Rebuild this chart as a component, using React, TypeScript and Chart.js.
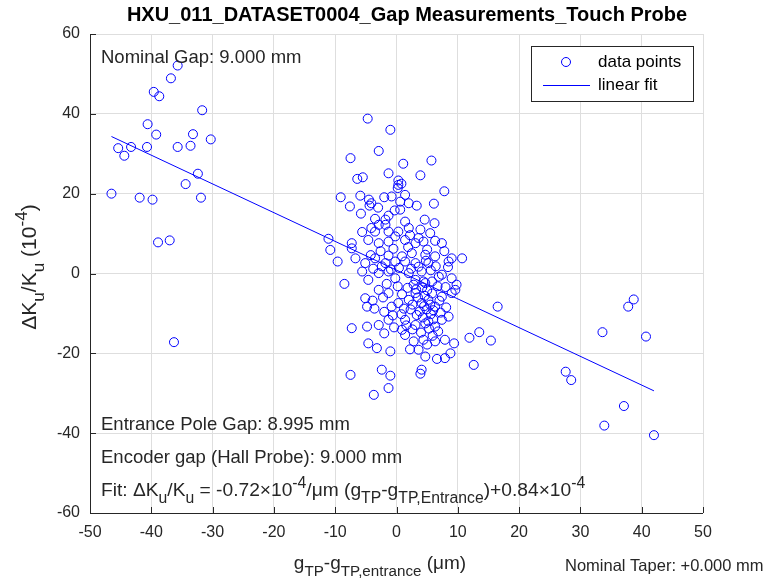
import React, { useEffect, useRef } from "react";
import { Chart, registerables } from "chart.js";

Chart.register(...registerables);

// ---- data ----
const leftX = [-35.7, -36.8, -39.6, -38.7, -31.7, -40.6, -39.2, -33.2, -30.3, -45.4, -43.3, -44.4, -40.7, -35.7, -33.6, -32.4, -34.4, -46.5, -41.9, -39.8, -31.9, -38.9, -37.0, -36.3];
const leftY = [52.1, 48.9, 45.5, 44.4, 40.9, 37.4, 34.8, 34.9, 33.6, 31.4, 31.7, 29.5, 31.7, 31.7, 32.0, 25.0, 22.4, 20.0, 19.0, 18.5, 19.0, 7.8, 8.3, -17.2];

const rightX = [16.5, 38.7, 37.8, 33.6, 40.7, 13.5, 11.9, 15.4, 12.6, 27.6, 28.5, 37.1, 33.9, 42.0];
const rightY = [-8.3, -6.5, -8.3, -14.7, -15.8, -14.7, -16.1, -16.8, -22.9, -24.6, -26.7, -33.2, -38.1, -40.5];

const upperX = [-4.7, -1.0, -2.9, -7.5, 5.7, 1.1, -1.3, 3.9, -6.4, -5.5, 0.3, 0.8, 0.3, 0.2, 7.8, -9.1, -5.9, -4.5, -4.1, -4.4, -2.0, -0.8, 1.4, 0.6, 2.0, 3.3, 6.1, -7.6, -5.8, 0.6, -3.5, -1.8, -1.3, -2.9, -4.1, -3.5, -1.8, -1.3, 1.4, 2.0, 3.9, -5.6, 0.3, -0.2, 5.5, -11.1, -7.3, -4.6, -2.9, -1.3, 1.4, 3.6, 3.1, 4.4, 6.3, 7.4, -10.8, -7.3, -6.7, -3.5, -1.3, 0.9, 2.5, 4.7, 6.3, 9.0, 10.7, -9.6, -5.1, -1.8, -0.2, 1.4, 3.1, 5.2, 8.5];
const upperY = [38.8, 36.0, 30.7, 28.9, 28.3, 27.5, 25.1, 24.6, 23.7, 24.1, 23.3, 22.5, 22.2, 21.4, 20.6, 19.1, 19.5, 18.5, 17.6, 17.0, 19.1, 19.3, 19.7, 18.0, 17.6, 17.0, 17.5, 16.8, 15.0, 16.0, 13.7, 13.5, 14.5, 12.2, 11.4, 10.5, 12.2, 10.5, 13.0, 11.4, 11.0, 10.4, 10.5, 9.3, 10.1, 8.7, 7.6, 8.4, 7.6, 8.0, 8.4, 8.9, 7.6, 8.0, 8.2, 7.6, 5.9, 6.3, 3.8, 3.8, 4.5, 4.3, 5.1, 4.7, 4.3, 3.8, 3.8, 3.0, 2.6, 2.6, 3.0, 3.0, 2.6, 2.6, 3.0];

const lowerX = [-8.5, -5.6, -4.6, -2.9, -1.3, -0.2, 2.0, 3.1, 4.1, 4.7, 7.4, 9.0, 9.6, -5.1, -4.8, -2.9, -1.3, -0.8, 0.3, 2.0, 3.1, 4.1, 5.2, 6.3, 7.4, 9.0, 8.5, 7.4, -7.3, -4.8, -2.9, -1.3, 1.4, 3.1, 4.7, 6.3, -4.6, -3.2, -1.0, 2.2, 3.6, 4.7, 6.6, 7.9, 8.8, 9.4, 7.9, 6.3, 4.4, 1.4, 0.9, -7.5, -2.4, -1.0, 4.1, 3.9, -1.3, -3.7];
const lowerY = [-2.6, 0.5, -1.6, 0.1, 0.5, -1.2, 0.1, -1.6, 0.5, -2.4, -0.3, -1.2, -4.1, -6.2, -8.3, -4.1, -4.9, -8.3, -7.4, -6.6, -4.9, -7.4, -6.6, -8.3, -5.8, -4.9, -10.8, -11.6, -13.7, -13.3, -12.9, -11.6, -11.6, -12.9, -12.5, -13.3, -17.5, -18.7, -19.5, -19.0, -19.1, -20.8, -21.4, -21.2, -20.0, -17.5, -16.6, -17.0, -16.6, -15.4, -14.1, -25.4, -24.1, -25.6, -24.1, -25.1, -28.7, -30.4];

const denseX = [4.2, 5.0, 5.8, 4.6, 3.8, 4.9, 5.6, 6.0, 4.3, 5.3, 6.8, 5.9, 4.0, 2.6, 3.3, 2.3, 1.2, 0.8, -0.6, -2.0, -3.6, -3.9, -2.2, 0.9, 1.8, 2.8, 5.8, 6.7, 7.0, 8.1, 8.0, 6.9, 5.6, 6.4, 3.6, 2.4, 0.4, -0.9, -2.4, -3.8, -4.2, -2.6, -0.5, 1.9, 5.0, 7.8, 8.4, 9.8, 4.5, 5.5, 3.5, 6.0, 2.6, 1.6, -0.4, -2.0, 5.0, 2.8, 4.8, 2.2, 4.6, -0.3, -3.0, 6.2, 7.2, 5.2, 4.4, 3.2, 0.2, -1.6];
const denseY = [-3.5, -4.2, -5.0, -5.6, -9.5, -9.0, -10.2, -11.5, -11.0, -13.8, -14.5, -15.6, -14.8, -14.0, -10.4, -9.0, -8.8, -10.2, -10.5, -9.6, -8.8, -6.8, -6.0, -5.2, -3.6, -2.8, -2.0, -3.2, -6.8, -8.5, -3.4, -0.8, 0.8, 1.8, 1.7, 1.2, 1.4, 1.0, 1.8, 1.2, 4.6, 5.6, 6.2, 6.6, 6.0, 5.6, 1.6, -2.8, -8.2, -7.8, -6.0, -9.2, -7.8, -13.0, -13.5, -15.0, -17.8, -17.0, 3.2, 9.6, 13.5, 15.8, 16.5, 12.6, -9.8, -12.0, -2.0, -4.0, -3.2, -2.6];

const fitSlope = -0.72;
const fitIntercept = 0.84;

const xTicks = [-50, -40, -30, -20, -10, 0, 10, 20, 30, 40, 50];
const yTicks = [-60, -40, -20, 0, 20, 40, 60];

const titleText = "HXU_011_DATASET0004_Gap Measurements_Touch Probe";
const nominalGapText = "Nominal Gap: 9.000 mm";
const entranceGapText = "Entrance Pole Gap: 8.995 mm";
const encoderGapText = "Encoder gap (Hall Probe): 9.000 mm";
const taperText = "Nominal Taper: +0.000 mm";

const FONT = "'Liberation Sans', Arial, Helvetica, sans-serif";
const AX = "#262626";

type Seg = { t: string; k?: "sub" | "sup" };

function richWidth(ctx: CanvasRenderingContext2D, segs: Seg[], size: number, ss = 0.78) {
  let w = 0;
  for (const s of segs) {
    const sz = s.k ? size * ss : size;
    ctx.font = `${sz}px ${FONT}`;
    w += ctx.measureText(s.t).width;
  }
  return w;
}

function drawRich(ctx: CanvasRenderingContext2D, x: number, y: number, segs: Seg[], size: number, ss = 0.78) {
  let cx = x;
  ctx.textAlign = "left";
  ctx.textBaseline = "alphabetic";
  for (const s of segs) {
    const sz = s.k ? size * ss : size;
    ctx.font = `${sz}px ${FONT}`;
    let dy = 0;
    if (s.k === "sub") dy = size * 0.36;
    if (s.k === "sup") dy = -size * 0.42;
    ctx.fillText(s.t, cx, y + dy);
    cx += ctx.measureText(s.t).width;
  }
}

const fitSegs: Seg[] = [
  { t: "Fit: \u0394K" }, { t: "u", k: "sub" }, { t: "/K" }, { t: "u", k: "sub" },
  { t: " = -0.72\u00d710" }, { t: "-4", k: "sup" }, { t: "/\u03bcm (g" }, { t: "TP", k: "sub" },
  { t: "-g" }, { t: "TP,Entrance", k: "sub" }, { t: ")+0.84\u00d710" }, { t: "-4", k: "sup" },
];
const xLabelSegs: Seg[] = [
  { t: "g" }, { t: "TP", k: "sub" }, { t: "-g" }, { t: "TP,entrance", k: "sub" }, { t: " (\u03bcm)" },
];
const yLabelSegs: Seg[] = [
  { t: "\u0394K" }, { t: "u", k: "sub" }, { t: "/K" }, { t: "u", k: "sub" }, { t: " (10" }, { t: "-4", k: "sup" }, { t: ")" },
];

const decorPlugin = {
  id: "decor",
  afterDraw(chart: any) {
    const ctx: CanvasRenderingContext2D = chart.ctx;
    const a = chart.chartArea;
    const xs = chart.scales.x;
    const ys = chart.scales.y;
    ctx.save();
    // axes
    ctx.strokeStyle = AX;
    ctx.lineWidth = 1;
    ctx.beginPath();
    ctx.moveTo(Math.round(a.left) + 0.5, a.top);
    ctx.lineTo(Math.round(a.left) + 0.5, Math.round(a.bottom) + 0.5);
    ctx.lineTo(a.right, Math.round(a.bottom) + 0.5);
    ctx.stroke();
    ctx.beginPath();
    for (const t of xTicks) {
      const px = Math.round(xs.getPixelForValue(t)) + 0.5;
      ctx.moveTo(px, a.bottom);
      ctx.lineTo(px, a.bottom - 6);
    }
    for (const t of yTicks) {
      const py = Math.round(ys.getPixelForValue(t)) + 0.5;
      ctx.moveTo(a.left, py);
      ctx.lineTo(a.left + 6, py);
    }
    ctx.stroke();

    // title
    ctx.fillStyle = "#000";
    ctx.font = `bold 20px ${FONT}`;
    ctx.textAlign = "center";
    ctx.textBaseline = "middle";
    ctx.fillText(titleText, 407, 15);

    // annotations
    ctx.fillStyle = "#262626";
    ctx.font = `18.5px ${FONT}`;
    ctx.textAlign = "left";
    ctx.textBaseline = "middle";
    ctx.fillText(nominalGapText, a.left + 11, 58);
    ctx.fillText(entranceGapText, a.left + 11, 425);
    ctx.fillText(encoderGapText, a.left + 11, 458);
    drawRich(ctx, a.left + 11, 496, fitSegs, 19.2, 0.82);
    ctx.font = `16.5px ${FONT}`;
    ctx.textBaseline = "middle";
    ctx.textAlign = "left";
    ctx.fillText(taperText, 565, 566);

    // x label
    const xw = richWidth(ctx, xLabelSegs, 19, 0.8);
    drawRich(ctx, 380 - xw / 2, 569, xLabelSegs, 19, 0.8);

    // y label
    ctx.save();
    ctx.translate(36, 267);
    ctx.rotate(-Math.PI / 2);
    const yw = richWidth(ctx, yLabelSegs, 21, 0.82);
    drawRich(ctx, -yw / 2, 0, yLabelSegs, 21, 0.82);
    ctx.restore();

    // legend
    ctx.fillStyle = "#fff";
    ctx.fillRect(531.5, 46.5, 162, 55);
    ctx.strokeStyle = AX;
    ctx.lineWidth = 1;
    ctx.strokeRect(531.5, 46.5, 162, 55);
    ctx.strokeStyle = "#0000ff";
    ctx.beginPath();
    ctx.arc(566, 62, 4.5, 0, Math.PI * 2);
    ctx.stroke();
    ctx.beginPath();
    ctx.moveTo(543, 85.5);
    ctx.lineTo(590, 85.5);
    ctx.stroke();
    ctx.fillStyle = "#000";
    ctx.font = `17px ${FONT}`;
    ctx.textAlign = "left";
    ctx.textBaseline = "middle";
    ctx.fillText("data points", 598, 62);
    ctx.fillText("linear fit", 598, 85);
    ctx.restore();
  },
};

export default function App() {
  const ref = useRef<HTMLCanvasElement | null>(null);
  useEffect(() => {
    if (!ref.current) return;
    const allX = [...leftX, ...upperX, ...lowerX, ...denseX, ...rightX];
    const allY = [...leftY, ...upperY, ...lowerY, ...denseY, ...rightY];
    const pts = allX.map((x, i) => ({ x, y: allY[i] }));
    const xmin = Math.min(...allX);
    const xmax = Math.max(...allX);
    const fitPts = [
      { x: xmin, y: fitSlope * xmin + fitIntercept },
      { x: xmax, y: fitSlope * xmax + fitIntercept },
    ];
    const chart = new Chart(ref.current, {
      type: "scatter",
      data: {
        datasets: [
          {
            label: "data points",
            data: pts,
            pointStyle: "circle",
            pointRadius: 4.5,
            pointBorderWidth: 1,
            borderColor: "#0000ff",
            backgroundColor: "rgba(0,0,0,0)",
            showLine: false,
          },
          {
            label: "linear fit",
            data: fitPts,
            showLine: true,
            borderColor: "#0000ff",
            borderWidth: 1,
            pointRadius: 0,
            backgroundColor: "rgba(0,0,0,0)",
          },
        ],
      },
      plugins: [decorPlugin],
      options: {
        animation: false,
        responsive: false,
        maintainAspectRatio: false,
        layout: { padding: { left: 0, right: 63, top: 34, bottom: 0 } },
        plugins: { legend: { display: false }, tooltip: { enabled: false }, title: { display: false } },
        scales: {
          x: {
            type: "linear",
            min: -50,
            max: 50,
            afterFit: (s: any) => { s.height = 68; },
            afterBuildTicks: (s: any) => { s.ticks = xTicks.map((v) => ({ value: v })); },
            ticks: { color: AX, font: { family: FONT, size: 16 }, padding: 10, maxRotation: 0 },
            grid: { color: "#dedede", drawTicks: false, lineWidth: 1 },
            border: { display: false },
          },
          y: {
            type: "linear",
            min: -60,
            max: 60,
            afterFit: (s: any) => { s.width = 90; },
            afterBuildTicks: (s: any) => { s.ticks = yTicks.map((v) => ({ value: v })); },
            ticks: { color: AX, font: { family: FONT, size: 16 }, padding: 10 },
            grid: { color: "#dedede", drawTicks: false, lineWidth: 1 },
            border: { display: false },
          },
        },
      },
    });
    return () => chart.destroy();
  }, []);
  return (
    <div style={{ position: "absolute", left: 0, top: 0, width: 766, height: 581, background: "#fff" }}>
      <canvas ref={ref} width={766} height={581} style={{ width: 766, height: 581, display: "block" }} />
    </div>
  );
}
